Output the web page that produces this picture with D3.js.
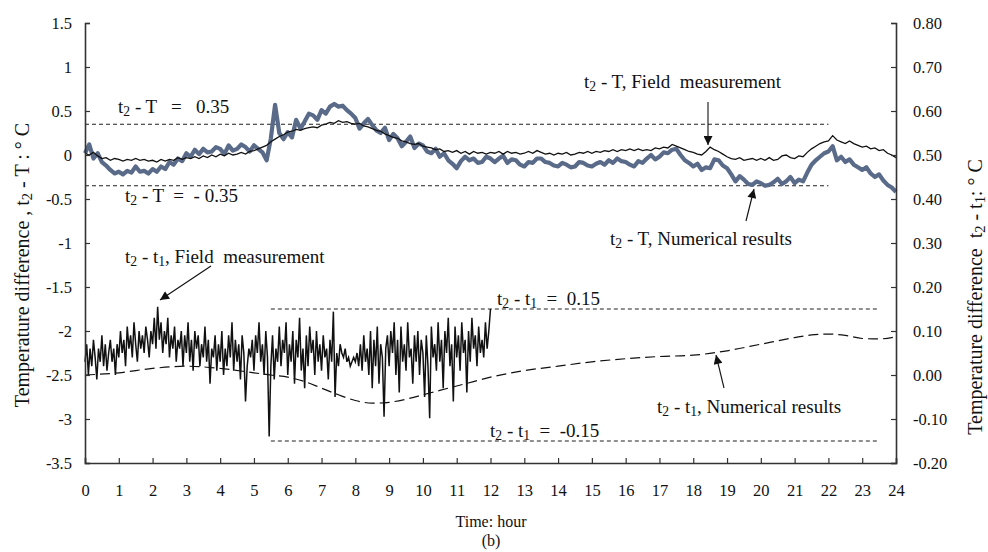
<!DOCTYPE html>
<html>
<head>
<meta charset="utf-8">
<script src="https://cdn.jsdelivr.net/npm/d3@7"></script>
<style>
  html, body { margin: 0; padding: 0; background: #fff; }
  svg { display: block; }
  svg text { font-family: "Liberation Serif", "Times New Roman", serif !important; white-space: pre; }
</style>
</head>
<body>
<svg id="chart" width="988" height="552"></svg>
<script>
// ---------------- DATA ----------------
const xTicks = [0,1,2,3,4,5,6,7,8,9,10,11,12,13,14,15,16,17,18,19,20,21,22,23,24];
const leftTicks = [1.5,1,0.5,0,-0.5,-1,-1.5,-2,-2.5,-3,-3.5];
const leftTickLabels = ["1.5","1","0.5","0","-0.5","-1","-1.5","-2","-2.5","-3","-3.5"];
const rightTicks = [0.8,0.7,0.6,0.5,0.4,0.3,0.2,0.1,0,-0.1,-0.2];
const rightTickLabels = ["0.80","0.70","0.60","0.50","0.40","0.30","0.20","0.10","0.00","-0.10","-0.20"];

// t2 - T series sampled every 0.125 h from 0 to 24 h
const stepT = 0.125;
const t2T_numerical = [
 0.02,0.12,-0.04,0.02,-0.08,-0.12,-0.17,-0.21,
 -0.19,-0.22,-0.18,-0.20,-0.13,-0.19,-0.18,-0.21,
 -0.16,-0.19,-0.13,-0.16,-0.08,-0.11,-0.04,-0.07,
 0.02,-0.02,0.06,0.01,0.07,0.03,0.04,0.09,
 0.07,0.01,0.11,0.05,0.07,0.12,0.09,0.04,
 0.11,0.07,0.03,-0.06,0.19,0.57,0.25,0.18,
 0.26,0.20,0.40,0.30,0.38,0.47,0.45,0.40,
 0.51,0.47,0.55,0.58,0.55,0.56,0.51,0.47,
 0.42,0.30,0.36,0.41,0.34,0.28,0.25,0.31,
 0.17,0.24,0.19,0.10,0.15,0.21,0.08,0.13,
 0.11,0.04,0.02,0.07,-0.02,0.02,-0.06,-0.10,
 -0.15,-0.07,-0.02,-0.06,-0.04,-0.09,-0.08,-0.02,
 -0.04,-0.08,-0.04,-0.01,-0.09,-0.05,-0.06,-0.11,
 -0.13,-0.08,-0.09,-0.04,-0.04,-0.08,-0.09,-0.12,
 -0.13,-0.09,-0.11,-0.14,-0.13,-0.08,-0.09,-0.12,
 -0.13,-0.10,-0.08,-0.11,-0.06,-0.09,-0.04,-0.07,
 -0.08,-0.11,-0.13,-0.07,-0.09,-0.04,0.00,-0.05,
 -0.02,0.03,0.02,0.06,0.07,0.00,-0.06,-0.09,
 -0.13,-0.10,-0.17,-0.14,-0.15,-0.05,-0.06,-0.12,
 -0.15,-0.22,-0.30,-0.24,-0.28,-0.33,-0.34,-0.30,
 -0.32,-0.35,-0.34,-0.31,-0.27,-0.33,-0.30,-0.25,
 -0.32,-0.28,-0.30,-0.20,-0.11,-0.06,-0.02,0.02,
 0.04,0.10,-0.06,-0.02,-0.08,-0.05,-0.11,-0.14,
 -0.17,-0.14,-0.21,-0.25,-0.22,-0.29,-0.34,-0.37,
 -0.42
];
const t2T_field = [
 0.02,0.00,0.03,-0.01,-0.04,-0.03,-0.06,-0.04,
 -0.05,-0.07,-0.05,-0.06,-0.04,-0.06,-0.05,-0.07,
 -0.06,-0.08,-0.05,-0.07,-0.05,-0.06,-0.03,-0.05,
 -0.03,-0.04,-0.02,-0.04,-0.01,-0.03,0.00,-0.02,
 0.01,-0.01,0.02,0.00,0.01,0.03,0.01,0.04,
 0.05,0.07,0.09,0.11,0.15,0.18,0.21,0.23,
 0.26,0.27,0.29,0.28,0.30,0.31,0.32,0.31,
 0.34,0.35,0.37,0.36,0.39,0.37,0.38,0.36,
 0.35,0.36,0.33,0.32,0.30,0.28,0.27,0.24,
 0.22,0.20,0.19,0.16,0.15,0.13,0.12,0.13,
 0.10,0.09,0.08,0.06,0.07,0.04,0.05,0.03,
 0.05,0.02,0.04,0.01,0.04,0.02,0.03,0.01,
 0.03,0.02,0.04,0.01,0.04,0.02,0.03,0.01,
 0.02,0.04,0.02,0.05,0.03,0.01,0.02,0.00,
 0.02,0.01,0.03,0.00,0.01,0.03,0.02,0.04,
 0.02,0.04,0.03,0.05,0.04,0.06,0.04,0.06,
 0.05,0.07,0.05,0.07,0.05,0.06,0.05,0.08,
 0.07,0.09,0.08,0.12,0.10,0.08,0.06,0.04,
 0.03,0.01,0.00,0.04,0.09,0.06,0.04,0.01,
 -0.02,-0.04,-0.05,-0.03,-0.06,-0.05,-0.04,-0.06,
 -0.04,-0.06,-0.03,-0.06,-0.05,-0.01,0.00,-0.03,
 -0.04,-0.01,-0.02,0.03,0.07,0.10,0.13,0.15,
 0.16,0.22,0.17,0.15,0.13,0.16,0.13,0.11,
 0.09,0.10,0.07,0.08,0.05,0.06,0.02,0.00,
 -0.03
];

// t2 - t1 field measurement sampled every 0.05 h from 0 to 12 h
const stepF = 0.05;
const t2t1_field = [
 0.03,0.07,0.00,0.06,0.02,0.08,0.04,-0.01,0.06,0.03,0.09,0.02,0.07,0.01,0.05,0.08,0.03,0.06,0.00,0.07,
 0.04,0.10,0.05,0.08,0.02,0.11,0.06,0.09,0.04,0.12,0.07,0.03,0.10,0.06,0.09,0.05,0.11,0.08,0.04,0.10,
 0.07,0.13,0.06,0.155,0.08,0.12,0.05,0.10,0.07,0.13,0.04,0.09,0.06,0.11,0.03,0.08,0.06,0.10,0.02,0.09,
 0.05,0.12,0.03,0.08,0.01,0.10,0.06,0.09,0.02,0.07,0.04,0.11,0.03,0.08,-0.02,0.06,0.04,0.09,0.01,0.07,
 0.03,0.10,0.00,0.06,0.02,0.09,0.04,0.12,0.01,0.08,0.03,0.07,-0.01,0.09,0.05,-0.06,0.02,0.06,0.04,0.08,
 0.01,0.09,0.05,0.12,0.03,0.07,0.00,0.10,0.04,-0.14,0.02,0.09,-0.01,0.06,0.03,0.11,0.02,0.08,0.05,0.12,
 0.00,0.07,0.03,0.10,-0.02,0.08,0.04,0.13,0.01,0.06,-0.03,0.09,0.02,0.11,0.05,0.08,0.00,0.10,0.03,0.07,
 0.01,0.09,0.04,0.06,-0.01,0.08,0.03,0.144,-0.05,0.05,0.02,0.07,0.05,0.04,0.06,0.03,0.04,0.02,0.03,0.04,
 0.03,0.05,0.02,0.07,0.01,0.09,0.03,0.06,0.00,0.10,-0.03,0.08,0.02,0.11,-0.02,0.07,0.04,-0.095,0.06,0.09,
 0.02,0.10,0.05,0.12,0.00,0.08,-0.04,0.11,0.03,0.07,0.01,0.12,0.04,0.06,-0.02,0.09,0.03,0.10,0.00,0.08,
 0.05,-0.05,0.09,0.02,-0.098,0.11,0.04,0.07,0.01,0.12,0.03,0.08,-0.03,0.10,0.05,0.13,0.02,0.07,-0.06,0.11,
 0.04,0.09,0.01,0.12,0.05,0.08,-0.04,0.10,0.03,0.13,0.06,0.09,0.02,0.11,0.05,0.08,0.04,0.12,0.06,0.10,
 0.15
];

// t2 - t1 numerical results
const t2t1_numHours = [0,1,2,3,4,5,5.5,6,6.5,7,7.5,8,8.5,9,9.5,10,10.5,11,11.5,12,13,14,15,16,17,18,19,20,21,21.5,22,22.5,23,23.5,24];
const t2t1_numerical = [0.000,0.005,0.015,0.020,0.015,0.005,0.000,-0.005,-0.015,-0.030,-0.045,-0.058,-0.064,-0.062,-0.055,-0.045,-0.035,-0.025,-0.015,-0.005,0.010,0.020,0.030,0.037,0.042,0.045,0.055,0.070,0.085,0.091,0.093,0.090,0.083,0.082,0.087];

// reference limits
const limitT = [0.35, -0.35];      // t2 - T limits, hours 0 .. 22
const limitTHours = [0, 22];
const limit21 = [0.15, -0.15];     // t2 - t1 limits, hours 5.5 .. 23.5
const limit21Hours = [5.5, 23.5];

// ---------------- CHART ----------------
const svg = d3.select("#chart");
const M = {left: 85, right: 896, top: 23, bottom: 463};
const x = d3.scaleLinear().domain([0,24]).range([M.left, M.right]);
const yL = d3.scaleLinear().domain([-3.5,1.5]).range([M.bottom, M.top]);
const yR = d3.scaleLinear().domain([-0.2,0.8]).range([M.bottom, M.top]);
const FS = 19;

// threshold lines
function hline(yScale, v, hrs) {
  svg.append("line")
    .attr("x1", x(hrs[0])).attr("x2", x(hrs[1]))
    .attr("y1", yScale(v)).attr("y2", yScale(v))
    .attr("stroke", "#222").attr("stroke-width", 1.1)
    .attr("stroke-dasharray", "4,3");
}
limitT.forEach(v => hline(yL, v, limitTHours));
limit21.forEach(v => hline(yR, v, limit21Hours));

// series
const lineT = d3.line().x((d,i) => x(i*stepT)).y(d => yL(d));
svg.append("path").datum(t2T_numerical).attr("d", lineT)
  .attr("fill","none").attr("stroke","#5a6a89").attr("stroke-width",4.2)
  .attr("stroke-linejoin","round");
svg.append("path").datum(t2T_field).attr("d", lineT)
  .attr("fill","none").attr("stroke","#111").attr("stroke-width",1.3);

const lineF = d3.line().x((d,i) => x(i*stepF)).y(d => yR(d));
svg.append("path").datum(t2t1_field).attr("d", lineF)
  .attr("fill","none").attr("stroke","#111").attr("stroke-width",1.5);

const lineN = d3.line().curve(d3.curveMonotoneX)
  .x((d,i) => x(t2t1_numHours[i])).y(d => yR(d));
svg.append("path").datum(t2t1_numerical).attr("d", lineN)
  .attr("fill","none").attr("stroke","#111").attr("stroke-width",1.2)
  .attr("stroke-dasharray","10,5");

// axes
const axL = d3.axisLeft(yL).tickValues(leftTicks)
  .tickFormat((d,i) => leftTickLabels[i]).tickSize(-5).tickPadding(13);
const axR = d3.axisRight(yR).tickValues(rightTicks)
  .tickFormat((d,i) => rightTickLabels[i]).tickSize(-5).tickPadding(17);
const axB = d3.axisBottom(x).tickValues(xTicks).tickFormat(d => d)
  .tickSize(-5).tickPadding(21);
function styleAxis(g) {
  g.attr("font-family", null);
  g.select(".domain").attr("stroke","#333").attr("stroke-width",1.6);
  g.selectAll(".tick line").attr("stroke","#333").attr("stroke-width",1.2);
  g.selectAll("text").attr("font-size", 16.5).attr("fill","#111");
}
svg.append("g").attr("transform",`translate(${M.left},0)`).call(axL).call(styleAxis);
svg.append("g").attr("transform",`translate(${M.right},0)`).call(axR).call(styleAxis);
svg.append("g").attr("transform",`translate(0,${M.bottom})`).call(axB).call(styleAxis);

// text helper with subscripts
function rich(g, parts, size) {
  const t = g.append("text").attr("font-size", size).attr("fill","#111");
  parts.forEach(p => {
    const s = t.append("tspan").text(p[0]);
    if (p[1] === "sub") s.attr("font-size", size*0.72).attr("dy", 3);
    else if (p[1] === "up") s.attr("dy", -3);
  });
  return t;
}
function label(xp, yp, parts, anchor) {
  const g = svg.append("g").attr("transform",`translate(${xp},${yp})`);
  rich(g, parts, FS).attr("text-anchor", anchor || "start");
  return g;
}
label(118, 113, [["t"],["2","sub"],[" - T   =   0.35","up"]]);
label(125, 202, [["t"],["2","sub"],[" - T  =  - 0.35","up"]]);
label(584, 88, [["t"],["2","sub"],[" - T, Field  measurement","up"]]);
label(610, 245, [["t"],["2","sub"],[" - T, Numerical results","up"]]);
label(125, 263, [["t"],["2","sub"],[" - t","up"],["1","sub"],[", Field  measurement","up"]]);
label(497, 305, [["t"],["2","sub"],[" - t","up"],["1","sub"],["  =  0.15","up"]]);
label(657, 413, [["t"],["2","sub"],[" - t","up"],["1","sub"],[", Numerical results","up"]]);
label(490, 437, [["t"],["2","sub"],[" - t","up"],["1","sub"],["  =  -0.15","up"]]);

// arrows
const defs = svg.append("defs");
defs.append("marker").attr("id","ah").attr("viewBox","0 0 10 10")
  .attr("refX",10).attr("refY",5).attr("markerWidth",11).attr("markerHeight",9)
  .attr("markerUnits","userSpaceOnUse").attr("orient","auto")
  .append("path").attr("d","M0,0 L10,5 L0,10 Z").attr("fill","#111");
function arrow(x1,y1,x2,y2) {
  svg.append("line").attr("x1",x1).attr("y1",y1).attr("x2",x2).attr("y2",y2)
    .attr("stroke","#111").attr("stroke-width",1.1).attr("marker-end","url(#ah)");
}
arrow(708,102,708,145);
arrow(746,221,754,189);
arrow(211,266,160,300);
arrow(724,388,716,355);

// axis titles
const lt = svg.append("g").attr("transform","translate(29,265) rotate(-90)");
rich(lt, [["Temperature difference , t"],["2","sub"],[" - T : ° C","up"]], 20).attr("text-anchor","middle");
const rt = svg.append("g").attr("transform","translate(982,297) rotate(-90)");
rich(rt, [["Temperature difference  t"],["2","sub"],[" - t","up"],["1","sub"],[": ° C","up"]], 20).attr("text-anchor","middle");

svg.append("text").attr("x",491).attr("y",527).attr("text-anchor","middle")
  .attr("font-size",16).attr("fill","#111").text("Time: hour");
svg.append("text").attr("x",491).attr("y",546).attr("text-anchor","middle")
  .attr("font-size",16).attr("fill","#111").text("(b)");
</script>
</body>
</html>
